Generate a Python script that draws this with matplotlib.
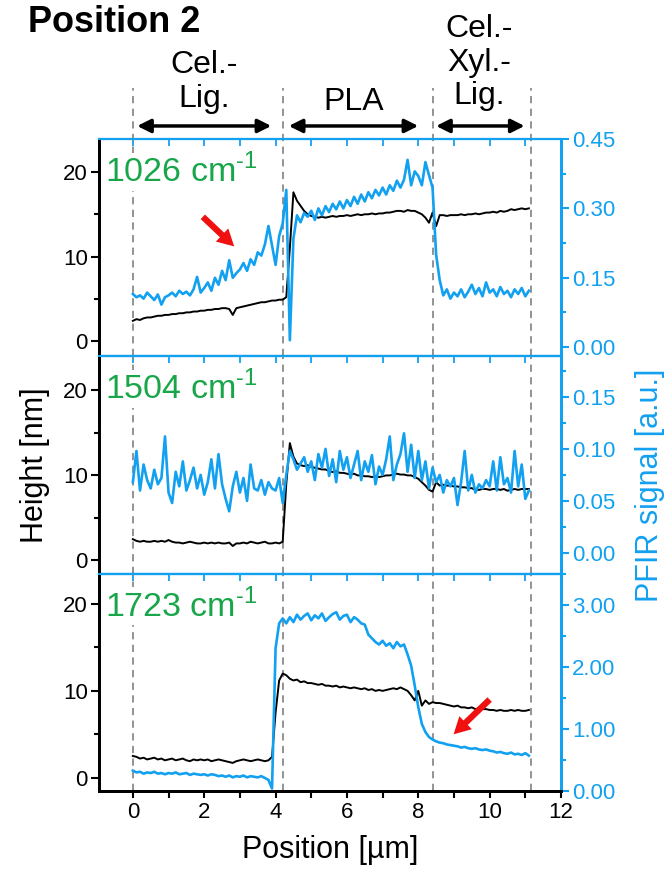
import numpy as np
import matplotlib
matplotlib.use("Agg")
import matplotlib.pyplot as plt
from matplotlib.ticker import MultipleLocator, FormatStrFormatter

plt.rcParams["font.family"] = ["Liberation Sans", "DejaVu Sans"]
plt.rcParams["mathtext.fontset"] = "custom"
plt.rcParams["mathtext.rm"] = "Liberation Sans"

BLUE = "#12a0f0"
GREEN = "#19a64a"

# line profiles, sampled every 0.1 um from 0 to 11.1 um
step = 0.1

# 1026 cm-1: height [nm] and PFIR signal [a.u.]
h1026 = [2.4, 2.6, 2.5, 2.7, 2.8, 2.8, 2.9, 3.0, 3.0, 3.1,
         3.1, 3.2, 3.2, 3.3, 3.3, 3.4, 3.4, 3.5, 3.5, 3.6,
         3.6, 3.7, 3.7, 3.8, 3.8, 3.9, 3.9, 3.8, 3.1, 3.9,
         4.0, 4.1, 4.2, 4.3, 4.4, 4.5, 4.6, 4.6, 4.7, 4.8,
         4.8, 4.9, 4.9, 5.2, 11.0, 17.6, 16.6, 16.0, 15.4, 15.0,
         14.8, 14.7, 14.6, 14.7, 14.6, 14.7, 14.8, 14.7, 14.8, 14.8,
         14.9, 14.8, 14.9, 15.0, 14.9, 15.0, 15.0, 15.1, 15.0, 15.1,
         15.1, 15.2, 15.2, 15.3, 15.4, 15.4, 15.3, 15.5, 15.4, 15.4,
         15.2, 15.0, 14.6, 14.0, 15.2, 13.6, 14.9, 14.9, 14.8, 14.9,
         14.9, 14.9, 15.0, 14.9, 15.0, 15.0, 15.1, 15.0, 15.1, 15.2,
         15.2, 15.3, 15.2, 15.4, 15.3, 15.4, 15.6, 15.5, 15.6, 15.7,
         15.6, 15.7]
s1026 = [0.115, 0.108, 0.112, 0.105, 0.118, 0.110, 0.102, 0.114, 0.092, 0.108,
         0.112, 0.118, 0.110, 0.122, 0.115, 0.120, 0.112, 0.125, 0.152, 0.118,
         0.128, 0.140, 0.122, 0.150, 0.135, 0.165, 0.145, 0.188, 0.150, 0.160,
         0.168, 0.182, 0.165, 0.190, 0.178, 0.205, 0.198, 0.222, 0.262, 0.220,
         0.178, 0.240, 0.268, 0.340, 0.015, 0.235, 0.285, 0.270, 0.290, 0.282,
         0.295, 0.275, 0.300, 0.285, 0.305, 0.292, 0.310, 0.298, 0.315, 0.300,
         0.318, 0.305, 0.325, 0.310, 0.330, 0.315, 0.335, 0.322, 0.340, 0.328,
         0.345, 0.330, 0.350, 0.338, 0.360, 0.345, 0.362, 0.405, 0.350, 0.380,
         0.370, 0.350, 0.400, 0.372, 0.345, 0.200, 0.145, 0.112, 0.125, 0.105,
         0.118, 0.110, 0.125, 0.108, 0.120, 0.135, 0.115, 0.128, 0.110, 0.140,
         0.118, 0.125, 0.110, 0.130, 0.115, 0.122, 0.108, 0.125, 0.115, 0.128,
         0.110, 0.122]

# 1504 cm-1
h1504 = [2.5, 2.3, 2.2, 2.3, 2.2, 2.2, 2.3, 2.2, 2.3, 2.2,
         2.4, 2.2, 2.1, 2.1, 2.0, 2.1, 2.2, 2.1, 2.0, 2.0,
         2.1, 2.0, 2.1, 2.0, 2.1, 2.0, 2.0, 2.1, 1.7, 2.0,
         2.0, 2.1, 2.0, 2.2, 2.1, 2.0, 2.1, 2.2, 2.0, 2.0,
         2.1, 2.0, 2.2, 9.0, 13.8, 12.2, 11.4, 11.2, 11.1, 11.2,
         11.0, 10.9, 10.8, 10.7, 10.7, 10.5, 10.4, 10.5, 10.3, 10.3,
         10.2, 10.1, 10.2, 10.0, 10.0, 9.9, 9.9, 9.8, 9.9, 9.8,
         9.9, 10.0, 10.0, 10.1, 10.2, 10.1, 10.1, 10.0, 10.0, 9.8,
         9.6, 9.2, 8.8, 8.3, 8.1, 9.2, 8.8, 8.9, 8.8, 8.8,
         8.7, 8.7, 8.6, 8.6, 8.5, 8.5, 8.3, 8.3, 8.4, 8.4,
         8.3, 8.4, 8.4, 8.3, 8.4, 8.2, 8.3, 8.4, 8.3, 8.4,
         8.4, 8.4]
s1504 = [0.068, 0.098, 0.060, 0.085, 0.070, 0.062, 0.080, 0.066, 0.072, 0.112,
         0.058, 0.048, 0.078, 0.064, 0.088, 0.060, 0.070, 0.082, 0.062, 0.075,
         0.056, 0.068, 0.090, 0.062, 0.095, 0.066, 0.052, 0.040, 0.064, 0.078,
         0.058, 0.072, 0.050, 0.085, 0.062, 0.060, 0.070, 0.056, 0.068, 0.062,
         0.060, 0.072, 0.048, 0.075, 0.098, 0.090, 0.080, 0.086, 0.092, 0.078,
         0.088, 0.070, 0.095, 0.082, 0.100, 0.074, 0.090, 0.068, 0.098, 0.080,
         0.092, 0.072, 0.085, 0.098, 0.070, 0.088, 0.078, 0.094, 0.066, 0.083,
         0.075, 0.090, 0.112, 0.070, 0.085, 0.095, 0.115, 0.078, 0.104, 0.072,
         0.098, 0.070, 0.088, 0.062, 0.082, 0.068, 0.075, 0.058, 0.070, 0.064,
         0.072, 0.046, 0.068, 0.098, 0.060, 0.075, 0.058, 0.066, 0.062, 0.070,
         0.064, 0.088, 0.060, 0.092, 0.066, 0.072, 0.058, 0.098, 0.064, 0.085,
         0.052, 0.060]

# 1723 cm-1
h1723 = [2.5, 2.4, 2.2, 2.3, 2.1, 2.2, 2.3, 2.1, 2.2, 2.0,
         2.1, 2.2, 2.0, 2.1, 2.2, 2.0, 1.9, 2.1, 2.0, 2.1,
         2.0, 2.1, 1.9, 2.0, 2.1, 2.0, 1.9, 1.8, 1.7, 1.9,
         2.0, 2.1, 2.0, 1.9, 2.0, 2.1, 2.0, 1.9, 2.0, 2.4,
         7.5, 11.2, 12.0, 11.8, 11.4, 11.2, 11.3, 11.0, 11.1, 10.9,
         10.9, 10.8, 10.7, 10.8, 10.6, 10.6, 10.5, 10.6, 10.4, 10.5,
         10.4, 10.3, 10.4, 10.3, 10.2, 10.3, 10.1, 10.2, 10.0, 10.1,
         10.0, 10.1, 10.2, 10.3, 10.2, 10.4, 10.2, 10.0, 9.5, 8.9,
         10.0, 8.3, 8.9, 8.5, 8.7, 8.6, 8.6, 8.5, 8.4, 8.3,
         8.2, 8.3, 8.1, 8.1, 8.0, 8.1, 7.9, 8.0, 7.9, 7.9,
         7.8, 7.8, 7.7, 7.8, 7.7, 7.7, 7.8, 7.7, 7.8, 7.7,
         7.7, 7.8]
s1723 = [0.33, 0.30, 0.31, 0.28, 0.30, 0.29, 0.31, 0.28, 0.29, 0.27,
         0.29, 0.28, 0.30, 0.27, 0.28, 0.29, 0.26, 0.28, 0.27, 0.26,
         0.27, 0.25, 0.27, 0.26, 0.24, 0.25, 0.23, 0.25, 0.22, 0.24,
         0.23, 0.25, 0.22, 0.24, 0.23, 0.22, 0.24, 0.21, 0.18, 0.04,
         2.30, 2.70, 2.78, 2.70, 2.80, 2.72, 2.84, 2.76, 2.82, 2.86,
         2.75, 2.83, 2.78, 2.86, 2.74, 2.80, 2.85, 2.88, 2.76, 2.82,
         2.84, 2.72, 2.80, 2.76, 2.70, 2.68, 2.52, 2.46, 2.40, 2.36,
         2.42, 2.34, 2.38, 2.30, 2.40, 2.33, 2.36, 2.20, 2.02, 1.70,
         1.35, 1.08, 0.95, 0.87, 0.83, 0.80, 0.78, 0.77, 0.75, 0.74,
         0.73, 0.72, 0.70, 0.71, 0.69, 0.68, 0.69, 0.67, 0.66, 0.67,
         0.65, 0.64, 0.62, 0.63, 0.61, 0.60, 0.62, 0.59, 0.60, 0.58,
         0.61, 0.57]

wavenumbers = ["1026", "1504", "1723"]
heights = [h1026, h1504, h1723]
signals = [s1026, s1504, s1723]

# axis ranges per panel
height_lims = [(-1.8, 23.9), (-1.56, 24.0), (-1.54, 23.5)]
signal_lims = [(-0.0198, 0.45), (-0.020, 0.189), (0.0, 3.5)]
signal_major = [0.15, 0.05, 1.0]
signal_ticks = [[0.0, 0.15, 0.30, 0.45], [0.0, 0.05, 0.10, 0.15], [0.0, 1.0, 2.0, 3.0]]

# region borders and labels
borders = [0.0, 4.22, 8.42, 11.15]
region_names = ["Cel.-\nLig.", "PLA", "Cel.-\nXyl.-\nLig."]
region_spans = [(0.12, 3.88), (4.37, 8.0), (8.5, 10.98)]
region_text_x = [2.0, 6.2, 9.7]
region_text_y = [1.262, 1.172, 1.35]

pos = np.arange(len(h1026)) * step

fig, axes = plt.subplots(3, 1, sharex=True, figsize=(6.72, 8.71), dpi=100)
fig.subplots_adjust(left=0.1473, right=0.8348, top=0.8404, bottom=0.0918, hspace=0)

for i, ax in enumerate(axes):
    axr = ax.twinx()
    ax.plot(pos, heights[i], color="black", lw=1.4)
    axr.plot(pos, signals[i], color=BLUE, lw=1.9)

    ax.set_xlim(-0.95, 12.0)
    ax.set_ylim(*height_lims[i])

    # dashed region borders
    for b in borders:
        ymax = 1.234 if i == 0 else 1.0
        ax.axvline(b, ymin=0, ymax=ymax, color="#8a8a8a", lw=1.3,
                   ls=(0, (4, 3)), clip_on=False, zorder=1)

    ax.text(0.012, 0.85, wavenumbers[i] + r" cm$^{\text{-1}}$",
            transform=ax.transAxes, color=GREEN, fontsize=24.5,
            ha="left", va="center", zorder=5,
            bbox=dict(facecolor="white", edgecolor="none", pad=1))

    # spines
    for a in (ax, axr):
        a.spines["top"].set_color(BLUE)
        a.spines["top"].set_linewidth(1.5)
        a.spines["bottom"].set_color("black" if i == 2 else BLUE)
        a.spines["bottom"].set_linewidth(2 if i == 2 else 1.5)
        a.spines["left"].set_color("black")
        a.spines["left"].set_linewidth(2)
        a.spines["right"].set_color(BLUE)
        a.spines["right"].set_linewidth(2)

    ax.yaxis.set_major_locator(MultipleLocator(10))
    ax.yaxis.set_minor_locator(MultipleLocator(5))
    ax.tick_params(axis="y", which="major", length=6, width=1.5, labelsize=16,
                   direction="out", pad=2)
    ax.tick_params(axis="y", which="minor", length=3.5, width=1.5, direction="out")

    axr.set_yticks(signal_ticks[i])
    axr.yaxis.set_minor_locator(MultipleLocator(signal_major[i] / 2))
    axr.yaxis.set_major_formatter(FormatStrFormatter("%.2f"))
    axr.tick_params(axis="y", which="major", length=6, width=1.5, labelsize=16,
                    colors=BLUE, direction="out", pad=2)
    axr.tick_params(axis="y", which="minor", length=3.5, width=1.5,
                    colors=BLUE, direction="out")
    axr.set_ylim(*signal_lims[i])

    ax.xaxis.set_major_locator(MultipleLocator(2))
    ax.xaxis.set_minor_locator(MultipleLocator(1))
    ax.tick_params(axis="x", which="both", top=False, bottom=(i == 2),
                   labelbottom=(i == 2), labelsize=16, width=1.5,
                   direction="out", length=5, pad=3)

    # inward blue ticks along each panel's top edge
    top_ticks = ax.secondary_xaxis("top")
    top_ticks.xaxis.set_major_locator(MultipleLocator(1))
    top_ticks.tick_params(axis="x", which="both", direction="in", length=5,
                          width=1.3, colors=BLUE, labeltop=False)
    top_ticks.spines["top"].set_color(BLUE)
    top_ticks.spines["top"].set_linewidth(1.5)

# region labels and arrows above the top panel
top = axes[0]
for name, (x0, x1), tx, ty in zip(region_names, region_spans, region_text_x, region_text_y):
    top.annotate("", xy=(x0, 1.06), xytext=(x1, 1.06),
                 xycoords=top.get_xaxis_transform(), textcoords=top.get_xaxis_transform(),
                 arrowprops=dict(arrowstyle="<|-|>", color="black", lw=2.5,
                                 mutation_scale=20, shrinkA=0, shrinkB=0),
                 annotation_clip=False)
    top.text(tx, ty, name, transform=top.get_xaxis_transform(), ha="center",
             va="center", fontsize=23, linespacing=1.15)

# red arrows marking the signal changes
axes[0].annotate("", xy=(2.84, 11.2), xytext=(1.96, 14.7),
                 arrowprops=dict(facecolor="#f01010", edgecolor="none",
                                 width=4.5, headwidth=13, headlength=12))
axes[2].annotate("", xy=(8.99, 5.0), xytext=(10.0, 9.0),
                 arrowprops=dict(facecolor="#f01010", edgecolor="none",
                                 width=4.5, headwidth=13, headlength=12))

fig.text(28 / 672, 1 - 23 / 871, "Position 2", fontsize=26, fontweight="bold",
         ha="left", va="center")
fig.text(35 / 672, 0.466, "Height [nm]", rotation=90, fontsize=22,
         ha="center", va="center")
fig.text(650 / 672, 0.443, "PFIR signal [a.u.]", rotation=90, fontsize=22,
         ha="center", va="center", color=BLUE)
fig.text(330 / 672, 0.024, "Position [\u00b5m]", fontsize=22, ha="center", va="center")

fig.savefig("out.png", dpi=100, facecolor="white")
